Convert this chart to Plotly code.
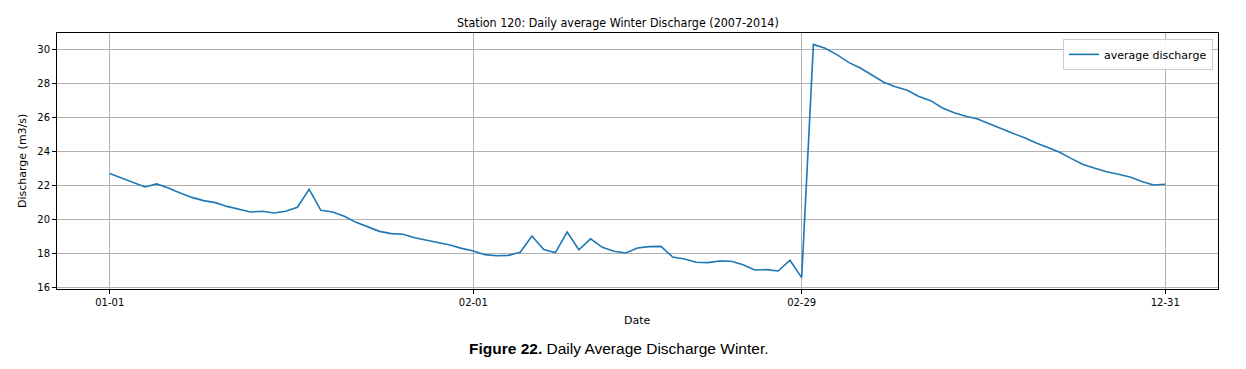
import plotly.graph_objects as go

jan = ["01-%02d" % d for d in range(1, 32)]
feb = ["02-%02d" % d for d in range(1, 30)]
dec = ["12-%02d" % d for d in range(1, 32)]
dates = jan + feb + dec

discharge = [
    22.71, 22.45, 22.2, 21.92, 22.1, 21.86, 21.57, 21.31, 21.12, 21.0,
    20.78, 20.6, 20.45, 20.49, 20.39, 20.49, 20.73, 21.78, 20.55, 20.45,
    20.2, 19.84, 19.57, 19.31, 19.18, 19.14, 18.94, 18.8, 18.65, 18.51,
    18.31,
    18.16, 17.94, 17.88, 17.9, 18.08, 19.04, 18.24, 18.06, 19.27, 18.23,
    18.87, 18.37, 18.14, 18.04, 18.33, 18.41, 18.43, 17.8, 17.69, 17.49,
    17.47, 17.57, 17.55, 17.35, 17.04, 17.06, 16.98, 17.61, 16.59,
    30.31, 30.08, 29.71, 29.25, 28.92, 28.49, 28.08, 27.82, 27.61, 27.25,
    27.0, 26.57, 26.29, 26.08, 25.92, 25.64, 25.34, 25.08, 24.82, 24.51,
    24.25, 23.96, 23.59, 23.24, 23.02, 22.82, 22.67, 22.51, 22.25, 22.04,
    22.08,
]

tick_labels = ["01-01", "02-01", "02-29", "12-31"]
y_ticks = [16, 18, 20, 22, 24, 26, 28, 30]

title_text = "Station 120: Daily average Winter Discharge (2007-2014)"
caption_bold = "Figure 22."
caption_rest = " Daily Average Discharge Winter."

narrow = "Liberation Sans Narrow, DejaVu Sans Condensed, Arial Narrow, sans-serif"
tickfont = dict(family="DejaVu Sans, sans-serif", size=10, color="#000")

fig = go.Figure()
fig.add_trace(go.Scatter(
    x=dates, y=discharge, mode="lines", name="average discharge",
    line=dict(color="#1f77b4", width=1.6),
))

fig.update_layout(
    width=1238, height=361,
    margin=dict(l=49, r=28, t=25, b=80),
    paper_bgcolor="white", plot_bgcolor="white",
    showlegend=True,
    legend=dict(
        x=0.9957, y=0.977, xanchor="right", yanchor="top",
        bgcolor="rgba(255,255,255,0.9)", bordercolor="#cccccc", borderwidth=1,
        font=dict(family="DejaVu Sans, sans-serif", size=11, color="#000"),
        itemwidth=30, tracegroupgap=0,
    ),
    xaxis=dict(
        type="category", categoryorder="array", categoryarray=dates,
        range=[-4.5, 94.5],
        tickmode="array", tickvals=tick_labels, ticktext=tick_labels,
        showgrid=True, gridcolor="#b0b0b0", gridwidth=0.8,
        ticks="outside", ticklen=4, tickcolor="#000",
        showline=True, linecolor="#000", linewidth=1, mirror=True,
        tickfont=tickfont, zeroline=False,
    ),
    yaxis=dict(
        range=[15.92, 30.98],
        tickmode="array", tickvals=y_ticks,
        showgrid=True, gridcolor="#b0b0b0", gridwidth=0.8,
        ticks="outside", ticklen=4, tickcolor="#000",
        showline=True, linecolor="#000", linewidth=1, mirror=True,
        tickfont=tickfont, zeroline=False,
    ),
    annotations=[
        dict(text=title_text, xref="paper", yref="paper", x=0.5, y=1,
             yanchor="middle", yshift=10.5, xshift=-20, showarrow=False,
             font=dict(family=narrow, size=12.4, color="#000")),
        dict(text="Date", xref="paper", yref="paper", x=0.5, y=0,
             yanchor="middle", yshift=-31, showarrow=False,
             font=dict(family="DejaVu Sans, sans-serif", size=11, color="#000")),
        dict(text="Discharge (m3/s)", xref="paper", yref="paper", x=0, y=0.5,
             xanchor="center", xshift=-35, textangle=-90, showarrow=False,
             font=dict(family="DejaVu Sans, sans-serif", size=11, color="#000")),
        dict(text="<b>" + caption_bold + "</b>" + caption_rest,
             xref="paper", yref="paper", x=0.5, y=0,
             yanchor="middle", yshift=-59, xshift=-19, showarrow=False,
             font=dict(family="Liberation Sans, Arial, sans-serif", size=15.5, color="#000")),
    ],
)

fig.write_html("out.html")
